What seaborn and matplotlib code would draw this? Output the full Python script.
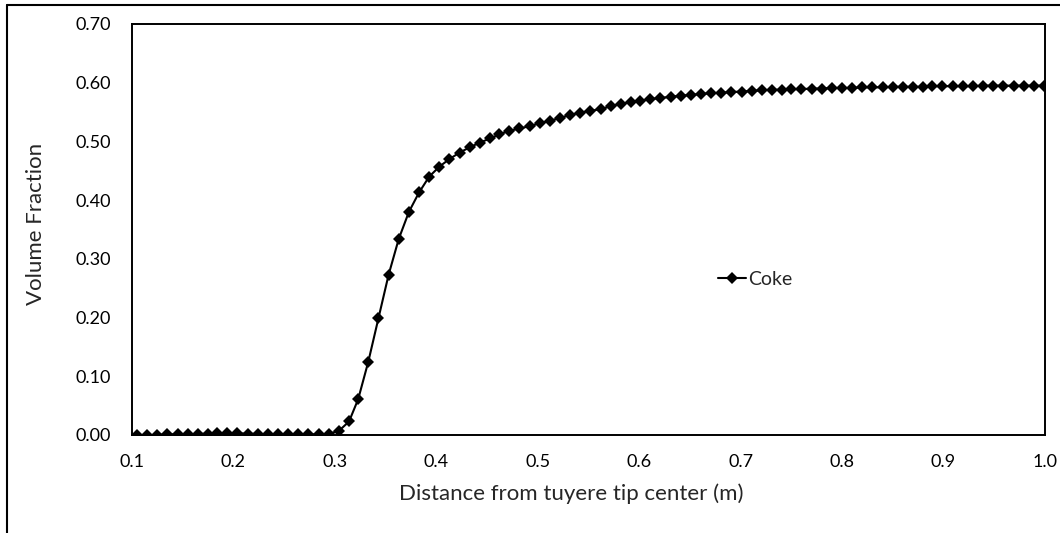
import matplotlib
matplotlib.use("Agg")
import matplotlib.pyplot as plt
from matplotlib.lines import Line2D
import seaborn as sns
import pandas as pd

distance = [0.105, 0.115, 0.125, 0.135, 0.145, 0.155, 0.165, 0.175, 0.184, 0.194,
            0.204, 0.214, 0.224, 0.234, 0.244, 0.254, 0.264, 0.274, 0.284, 0.294,
            0.304, 0.314, 0.323, 0.333, 0.343, 0.353, 0.363, 0.373, 0.383, 0.393,
            0.403, 0.413, 0.423, 0.433, 0.443, 0.453, 0.462, 0.472, 0.482, 0.492,
            0.502, 0.512, 0.522, 0.532, 0.542, 0.552, 0.562, 0.572, 0.582, 0.592,
            0.601, 0.611, 0.621, 0.631, 0.641, 0.651, 0.661, 0.671, 0.681, 0.691,
            0.701, 0.711, 0.721, 0.731, 0.741, 0.750, 0.760, 0.770, 0.780, 0.790,
            0.800, 0.810, 0.820, 0.830, 0.840, 0.850, 0.860, 0.870, 0.880, 0.889,
            0.899, 0.909, 0.919, 0.929, 0.939, 0.949, 0.959, 0.969, 0.979, 0.989,
            0.999]

coke = [0.000, 0.000, 0.000, 0.001, 0.001, 0.001, 0.002, 0.002, 0.003, 0.003,
        0.003, 0.002, 0.002, 0.001, 0.001, 0.001, 0.001, 0.001, 0.001, 0.002,
        0.007, 0.023, 0.061, 0.125, 0.199, 0.273, 0.334, 0.380, 0.413, 0.440,
        0.457, 0.470, 0.481, 0.490, 0.498, 0.505, 0.512, 0.518, 0.522, 0.526,
        0.531, 0.535, 0.540, 0.545, 0.549, 0.552, 0.555, 0.560, 0.564, 0.567,
        0.569, 0.572, 0.574, 0.576, 0.578, 0.579, 0.581, 0.582, 0.583, 0.584,
        0.585, 0.586, 0.587, 0.588, 0.588, 0.589, 0.589, 0.590, 0.590, 0.591,
        0.591, 0.591, 0.592, 0.592, 0.592, 0.593, 0.593, 0.593, 0.593, 0.594,
        0.594, 0.594, 0.594, 0.594, 0.595, 0.595, 0.595, 0.595, 0.595, 0.595,
        0.595]

series_name = "Coke"
x_label = "Distance from tuyere tip center (m)"
y_label = "Volume Fraction"
x_ticks = [0.1, 0.2, 0.3, 0.4, 0.5, 0.6, 0.7, 0.8, 0.9, 1.0]
y_ticks = [0.0, 0.1, 0.2, 0.3, 0.4, 0.5, 0.6, 0.7]

sns.set_style("white")
plt.rcParams['font.family'] = ['Lato', 'DejaVu Sans']

df = pd.DataFrame({"Distance": distance, "Volume Fraction": coke,
                   "Series": [series_name] * len(distance)})

fig = plt.figure(figsize=(10.6, 5.33), dpi=100)
ax = fig.add_axes([0.1245, 0.1839, 0.8613, 0.7711])

sns.lineplot(data=df, x="Distance", y="Volume Fraction", hue="Series",
             palette=["black"], marker="D", markersize=5.8, markeredgewidth=0,
             linewidth=1.5, ax=ax, legend=False)

ax.set_xlim(0.1, 1.0)
ax.set_ylim(0.0, 0.7)
ax.set_xticks(x_ticks)
ax.set_xticklabels([f"{t:.1f}" for t in x_ticks])
ax.set_yticks(y_ticks)
ax.set_yticklabels([f"{t:.2f}" for t in y_ticks])
ax.tick_params(axis="both", direction="out", length=5, width=1.0,
               color="#333333", labelsize=13, labelcolor="black")
ax.tick_params(axis="y", pad=10)
ax.tick_params(axis="x", pad=9)
for s in ax.spines.values():
    s.set_visible(True)
    s.set_color("black")
    s.set_linewidth(1.4)

ax.set_xlabel(x_label, fontsize=16)
ax.set_ylabel(y_label, fontsize=16)
ax.xaxis.set_label_coords(0.481, -0.119)
ax.yaxis.set_label_coords(-0.094, 0.513)

handle = Line2D([], [], color="black", marker="D", markersize=5.8,
                markeredgewidth=0, linewidth=1.5)
ax.legend([handle], [series_name], loc="center left",
          bbox_to_anchor=(0.631, 0.378), frameon=False, fontsize=14,
          handlelength=1.45, handletextpad=0.1, borderpad=0)

# outer frame of the original chart image
fig.add_artist(Line2D([7 / 1060, 7 / 1060], [0, 1 - 5 / 533], color="black",
                      linewidth=1.5, transform=fig.transFigure))
fig.add_artist(Line2D([7 / 1060, 1], [1 - 5 / 533, 1 - 5 / 533], color="black",
                      linewidth=1.5, transform=fig.transFigure))

fig.savefig("out.png", dpi=100)
